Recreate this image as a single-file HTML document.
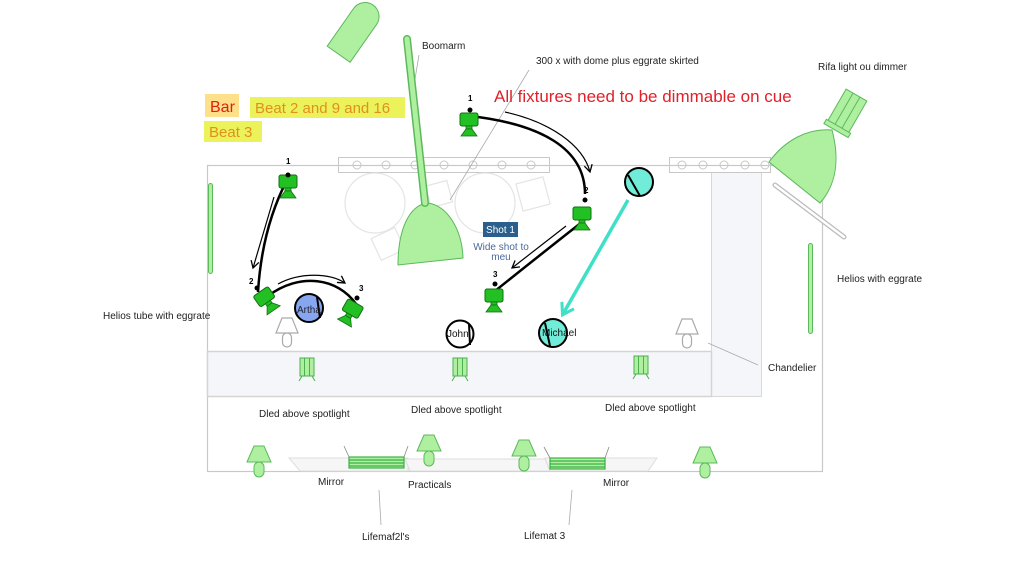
<!DOCTYPE html>
<html><head><meta charset="utf-8"><style>
html,body{margin:0;padding:0;background:#fff;width:1024px;height:576px;overflow:hidden}
svg{display:block}
text{font-family:"Liberation Sans",sans-serif}
</style></head><body>
<svg width="1024" height="576" viewBox="0 0 1024 576" xmlns="http://www.w3.org/2000/svg">
<defs>
<marker id="ah" markerWidth="10" markerHeight="10" refX="8" refY="5" orient="auto" markerUnits="userSpaceOnUse"><path d="M1,1 L8,5 L1,9" fill="none" stroke="#000" stroke-width="1.3"/></marker>
<marker id="tah" markerWidth="16" markerHeight="16" refX="12" refY="8" orient="auto" markerUnits="userSpaceOnUse"><path d="M2,1 L13,8 L2,15" fill="none" stroke="#40e0c8" stroke-width="3"/></marker>
<g id="cam"><rect x="-9" y="-8" width="18" height="13" rx="2" fill="#22c022" stroke="#107010" stroke-width="1"/><rect x="-3" y="5" width="6" height="3" fill="#22c022" stroke="#107010" stroke-width="0.8"/><path d="M-3,8 L3,8 L8,15 L-8,15 Z" fill="#22c022" stroke="#107010" stroke-width="0.8"/></g>
<g id="lamp"><path d="M-5,-16 L5,-16 L12,0 L-12,0 Z" fill="#aef0a0" stroke="#5cb85c" stroke-width="1"/><rect x="-5" y="0" width="10" height="15" rx="5" fill="#aef0a0" stroke="#5cb85c" stroke-width="1"/></g>
<g id="wlamp"><path d="M-5,-13 L5,-13 L11,2 L-11,2 Z" fill="#fff" stroke="#aaa" stroke-width="1.2"/><rect x="-4.5" y="2" width="9" height="14" rx="4.5" fill="#fff" stroke="#aaa" stroke-width="1.2"/></g>
<g id="dled"><rect x="-7" y="-10" width="14" height="18" fill="#aef0a0" stroke="#4caf50" stroke-width="1"/><line x1="-2.5" y1="-10" x2="-2.5" y2="8" stroke="#4caf50"/><line x1="2.5" y1="-10" x2="2.5" y2="8" stroke="#4caf50"/><line x1="-5" y1="8" x2="-8" y2="13" stroke="#4caf50"/><line x1="5" y1="8" x2="8" y2="13" stroke="#4caf50"/></g>
</defs>

<!-- room -->
<rect x="207.5" y="165.5" width="615" height="306" fill="none" stroke="#c8c8c8" stroke-width="1.2"/>
<rect x="711.5" y="172.5" width="50" height="224" fill="#f4f6fa" stroke="#d8d8d8"/>
<rect x="207.5" y="351.5" width="504" height="45" fill="#f4f6fa" stroke="#d4d4d4" stroke-width="1.5"/>
<!-- trusses -->
<rect x="338.5" y="157.5" width="211" height="15" fill="none" stroke="#c8c8c8"/>
<g fill="none" stroke="#c8c8c8"><circle cx="357" cy="165" r="4"/><circle cx="386" cy="165" r="4"/><circle cx="415" cy="165" r="4"/><circle cx="444" cy="165" r="4"/><circle cx="473" cy="165" r="4"/><circle cx="502" cy="165" r="4"/><circle cx="531" cy="165" r="4"/></g>
<rect x="669.5" y="157.5" width="101" height="15" fill="none" stroke="#c8c8c8"/>
<g fill="none" stroke="#c8c8c8"><circle cx="682" cy="165" r="4"/><circle cx="703" cy="165" r="4"/><circle cx="724" cy="165" r="4"/><circle cx="745" cy="165" r="4"/><circle cx="765" cy="165" r="4"/></g>
<!-- faint table -->
<g fill="none" stroke="#e4e4e4" stroke-width="1.2">
<circle cx="375" cy="203" r="30"/><circle cx="485" cy="203" r="30"/>
<rect x="428" y="183" width="22" height="22" transform="rotate(-15 439 194)"/>
<rect x="519" y="180" width="28" height="28" transform="rotate(-15 533 194)"/>
<rect x="375" y="232" width="26" height="24" transform="rotate(-25 388 244)"/>
</g>
<!-- helios tubes -->
<rect x="208.5" y="183.5" width="4" height="90" rx="2" fill="#aef0a0" stroke="#5cb85c"/>
<rect x="808.5" y="243.5" width="4" height="90" rx="2" fill="#aef0a0" stroke="#5cb85c"/>
<!-- leader lines -->
<g stroke="#aaa" stroke-width="0.8">
<line x1="419" y1="55" x2="414" y2="85"/>
<line x1="529" y1="70" x2="450" y2="200"/>
<line x1="708" y1="343" x2="758" y2="365"/>
<line x1="379" y1="490" x2="381" y2="525"/>
<line x1="572" y1="490" x2="569" y2="525"/>
</g>
<!-- boomarm -->
<path d="M398,265 C398,232 408,205 428,203 C448,206 462,230 463,258 Z" fill="#aef0a0" stroke="#5cb85c"/>
<line x1="407" y1="39" x2="425" y2="203" stroke="#5cb85c" stroke-width="8" stroke-linecap="round"/>
<line x1="407" y1="39" x2="425" y2="203" stroke="#aef0a0" stroke-width="5" stroke-linecap="round"/>
<!-- top left lamp -->
<g transform="rotate(35 357 28)"><path d="M343,60 L343,14 A14,14 0 0 1 371,14 L371,60 Z" fill="#aef0a0" stroke="#5cb85c"/></g>
<!-- rifa -->
<line x1="775" y1="185" x2="844" y2="237" stroke="#bbb" stroke-width="5" stroke-linecap="round"/>
<line x1="775" y1="185" x2="844" y2="237" stroke="#fff" stroke-width="2.5" stroke-linecap="round"/>
<path d="M769,162 C785,140 808,128 832,130 C840,160 836,185 820,203 Z" fill="#aef0a0" stroke="#5cb85c"/>
<g transform="rotate(30 845 115)"><rect x="833" y="92" width="24" height="38" fill="#aef0a0" stroke="#5cb85c"/><line x1="841" y1="92" x2="841" y2="130" stroke="#5cb85c"/><line x1="849" y1="92" x2="849" y2="130" stroke="#5cb85c"/><rect x="831" y="128" width="28" height="5" fill="#aef0a0" stroke="#5cb85c"/></g>
<!-- mirrors & lifemats -->
<path d="M289,458 L408,458 L408,471 L300,471 Z" fill="#f6f6f6" stroke="#ddd"/>
<path d="M405,459 L545,459 L550,471 L410,471 Z" fill="#f6f6f6" stroke="#ddd"/>
<path d="M545,458 L657,458 L648,471 L550,471 Z" fill="#f6f6f6" stroke="#ddd"/>
<g stroke="#3cb043" stroke-width="1.2" fill="#aef0a0">
<rect x="349" y="457" width="55" height="11"/><line x1="349" y1="460" x2="404" y2="460"/><line x1="349" y1="463" x2="404" y2="463"/><line x1="349" y1="466" x2="404" y2="466"/>
<rect x="550" y="458" width="55" height="11"/><line x1="550" y1="461" x2="605" y2="461"/><line x1="550" y1="464" x2="605" y2="464"/><line x1="550" y1="467" x2="605" y2="467"/>
</g>
<g stroke="#888" stroke-width="0.8"><line x1="349" y1="457" x2="344" y2="446"/><line x1="404" y1="457" x2="408" y2="446"/><line x1="550" y1="458" x2="544" y2="447"/><line x1="605" y1="458" x2="609" y2="447"/></g>
<!-- lamps -->
<use href="#lamp" x="259" y="462"/><use href="#lamp" x="429" y="451"/><use href="#lamp" x="524" y="456"/><use href="#lamp" x="705" y="463"/>
<use href="#wlamp" x="287" y="331"/><use href="#wlamp" x="687" y="332"/>
<use href="#dled" x="307" y="368"/><use href="#dled" x="460" y="368"/><use href="#dled" x="641" y="366"/>
<!-- camera paths -->
<g fill="none" stroke="#000">
<path d="M287,180 Q262,228 258,292" stroke-width="2.5"/>
<path d="M274,197 L253,268" stroke-width="1.2" marker-end="url(#ah)"/>
<path d="M268,296 C300,272 338,278 356,304" stroke-width="2.5"/>
<path d="M278,284 C300,272 330,273 345,283" stroke-width="1.2" marker-end="url(#ah)"/>
<path d="M470,116 C540,124 585,148 585,194" stroke-width="2.5"/>
<path d="M505,112 C550,122 583,145 590,172" stroke-width="1.2" marker-end="url(#ah)"/>
<path d="M582,222 Q540,255 495,291" stroke-width="2.5"/>
<path d="M566,226 L512,268" stroke-width="1.2" marker-end="url(#ah)"/>
</g>
<line x1="628" y1="200" x2="563" y2="314" stroke="#40e0c8" stroke-width="3.5" marker-end="url(#tah)"/>
<!-- cameras -->
<use href="#cam" x="288" y="183"/>
<g transform="translate(265 298) rotate(-35)"><use href="#cam"/></g>
<g transform="translate(352 310) rotate(30)"><use href="#cam"/></g>
<use href="#cam" x="469" y="121"/><use href="#cam" x="582" y="215"/><use href="#cam" x="494" y="297"/>
<g fill="#000"><circle cx="288" cy="175" r="2.5"/><circle cx="257" cy="288" r="2.5"/><circle cx="357" cy="298" r="2.5"/><circle cx="470" cy="110" r="2.5"/><circle cx="585" cy="200" r="2.5"/><circle cx="495" cy="284" r="2.5"/></g>
<g font-size="8" font-weight="bold" fill="#000"><text x="286" y="164">1</text><text x="249" y="284">2</text><text x="359" y="291">3</text><text x="468" y="101">1</text><text x="584" y="193">2</text><text x="493" y="277">3</text></g>
<!-- actors -->
<circle cx="309" cy="308" r="14" fill="#86a6f0" stroke="#000" stroke-width="2"/><line x1="317" y1="297" x2="320" y2="318" stroke="#000" stroke-width="2"/>
<text x="297" y="313" font-size="10" fill="#223">Artha</text>
<circle cx="460" cy="334" r="13.5" fill="#fff" stroke="#000" stroke-width="2"/><line x1="469" y1="324" x2="470" y2="345" stroke="#000" stroke-width="2"/>
<text x="447" y="337" font-size="10" fill="#111">John</text>
<circle cx="553" cy="333" r="14" fill="#70ecd8" stroke="#000" stroke-width="2"/><line x1="545" y1="323" x2="550" y2="346" stroke="#000" stroke-width="2"/>
<text x="542" y="336" font-size="10" fill="#111">Michael</text>
<circle cx="639" cy="182" r="14" fill="#70ecd8" stroke="#000" stroke-width="2"/><line x1="628" y1="175" x2="640" y2="196" stroke="#000" stroke-width="2"/>
<!-- shot label -->
<rect x="483" y="222" width="35" height="15" fill="#2a5e8c"/>
<text x="500.5" y="233" font-size="10" fill="#fff" text-anchor="middle">Shot 1</text>
<text x="501" y="250" font-size="10" fill="#4a6a9a" text-anchor="middle">Wide shot to</text>
<text x="501" y="260" font-size="10" fill="#4a6a9a" text-anchor="middle">meu</text>
<!-- legend -->
<rect x="205" y="94" width="34" height="23" fill="#ffe08a"/>
<text x="210" y="112" font-size="16" fill="#e02010">Bar</text>
<rect x="250" y="97" width="155" height="21" fill="#ecf25a"/>
<text x="255" y="113" font-size="15" fill="#e09020">Beat 2 and 9 and 16</text>
<rect x="204" y="121" width="58" height="21" fill="#ecf25a"/>
<text x="209" y="137" font-size="15" fill="#e09020">Beat 3</text>
<text x="494" y="102" font-size="17" fill="#e0202a">All fixtures need to be dimmable on cue</text>
<!-- labels -->
<g font-size="10" fill="#222">
<text x="422" y="49">Boomarm</text>
<text x="536" y="64">300 x with dome plus eggrate skirted</text>
<text x="818" y="70">Rifa light ou dimmer</text>
<text x="837" y="282">Helios with eggrate</text>
<text x="103" y="319">Helios tube with eggrate</text>
<text x="768" y="371">Chandelier</text>
<text x="259" y="417">Dled above spotlight</text>
<text x="411" y="413">Dled above spotlight</text>
<text x="605" y="411">Dled above spotlight</text>
<text x="318" y="485">Mirror</text>
<text x="408" y="488">Practicals</text>
<text x="603" y="486">Mirror</text>
<text x="362" y="540">Lifemaf2l's</text>
<text x="524" y="539">Lifemat 3</text>
</g>
</svg>
</body></html>
